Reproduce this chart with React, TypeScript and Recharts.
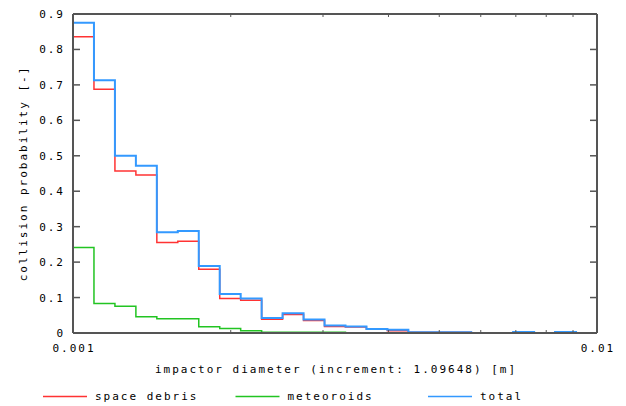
import React from 'react';
import { LineChart, Line, XAxis, YAxis, Legend } from 'recharts';

// Bin edges of the impactor diameter [m], 25 bins per decade (factor 1.09648)
const binEdges = [
  0.001, 0.0010965, 0.0012023, 0.0013183, 0.0014454, 0.0015849, 0.0017378,
  0.0019055, 0.0020893, 0.0022909, 0.0025119, 0.0027542, 0.00302, 0.0033113,
  0.0036308, 0.0039811, 0.0043652, 0.0047863, 0.0052481, 0.0057544, 0.0063096,
  0.0069183, 0.0075858, 0.0083176, 0.0091201, 0.01,
];

// Collision probability per bin
const spaceDebris = [
  0.836, 0.688, 0.457, 0.446, 0.255, 0.259, 0.18, 0.097, 0.0925, 0.039, 0.052,
  0.035, 0.018, 0.017, 0.011, 0.006, 0.002, 0.002, 0.002, 0, 0, 0.002, 0, 0.002, 0,
];
const meteoroids = [
  0.241, 0.083, 0.0755, 0.046, 0.04, 0.04, 0.0175, 0.0127, 0.006, 0.002, 0.002,
  0.002, 0.002, 0.001, 0.0005, 0.0005, 0.0003, 0.0003, 0.0003, 0, 0, 0.001, 0, 0.001, 0,
];
const total = [
  0.875, 0.713, 0.5, 0.472, 0.284, 0.288, 0.189, 0.11, 0.097, 0.042, 0.056,
  0.038, 0.021, 0.018, 0.011, 0.009, 0.002, 0.002, 0.002, 0, 0, 0.003, 0, 0.003, 0,
];

const seriesNames = ['space debris', 'meteoroids', 'total'];

const xTicks = [0.001, 0.002, 0.003, 0.004, 0.005, 0.006, 0.007, 0.008, 0.009, 0.01];
const xLabelledTicks = [0.001, 0.01];
const yTicks = [0, 0.1, 0.2, 0.3, 0.4, 0.5, 0.6, 0.7, 0.8, 0.9];

const xTitle = 'impactor diameter (increment: 1.09648) [m]';
const yTitle = 'collision probability [-]';

// each edge carries the value of the bin that starts there; the last edge closes the final bin
const data = binEdges.map((d, i) => {
  const k = Math.min(i, spaceDebris.length - 1);
  return { d, debris: spaceDebris[k], meteoroids: meteoroids[k], total: total[k] };
});

const FONT = "'DejaVu Sans Mono', monospace";
const FRAME = '#555555';
const textStyle = { fontFamily: FONT, fontSize: 11, letterSpacing: 2, fill: '#000' };

const fmtY = (v: number) => (v === 0 ? '0' : v.toFixed(1));

function BottomTick(props: any) {
  const { x, y, payload } = props;
  const v = payload.value;
  const labelled = xLabelledTicks.includes(v);
  return (
    <g>
      {!labelled && <line x1={x} x2={x} y1={y} y2={y - 3} stroke={FRAME} strokeWidth={1} />}
      {labelled && (
        <text x={x + 1} y={y + 19} textAnchor="middle" style={textStyle}>
          {String(v)}
        </text>
      )}
    </g>
  );
}

function TopTick(props: any) {
  const { x, y, payload } = props;
  if (xLabelledTicks.includes(payload.value)) return <g />;
  return <line x1={x} x2={x} y1={y} y2={y + 3} stroke={FRAME} strokeWidth={1} />;
}

function LeftTick(props: any) {
  const { x, y, payload } = props;
  return (
    <g>
      <line x1={x} x2={x + 7} y1={y} y2={y} stroke={FRAME} strokeWidth={1.5} />
      <text x={x - 8} y={y + 4} textAnchor="end" style={textStyle}>
        {fmtY(payload.value)}
      </text>
    </g>
  );
}

function RightTick(props: any) {
  const { x, y } = props;
  return <line x1={x} x2={x - 7} y1={y} y2={y} stroke={FRAME} strokeWidth={1.5} />;
}

function XTitle(props: any) {
  const vb = props.viewBox;
  return (
    <text x={vb.x + vb.width / 2 + 1} y={vb.y + 40} textAnchor="middle" style={textStyle}>
      {xTitle}
    </text>
  );
}

function YTitle(props: any) {
  const vb = props.viewBox;
  const cy = vb.y + vb.height / 2;
  return (
    <text
      transform={`translate(${vb.x + 26.5},${cy}) rotate(-90)`}
      textAnchor="middle"
      style={textStyle}
    >
      {yTitle}
    </text>
  );
}

function KeyBox(props: any) {
  const payload = props.payload || [];
  const items = seriesNames
    .map((n) => payload.find((p: any) => p.value === n))
    .filter(Boolean);
  return (
    <div style={{ position: 'relative', width: 0, height: 0 }}>
      <svg
        width={626}
        height={22}
        style={{ position: 'absolute', left: 0, top: 385, overflow: 'visible' }}
      >
        {items.map((it: any, i: number) => {
          const x0 = 43 + i * 192.5;
          return (
            <g key={it.value}>
              <line x1={x0} x2={x0 + 44} y1={11.5} y2={11.5} stroke={it.color} strokeWidth={1.5} />
              <text x={x0 + 52} y={15} style={textStyle}>
                {it.value}
              </text>
            </g>
          );
        })}
      </svg>
    </div>
  );
}

export default function App() {
  return (
    <div style={{ position: 'absolute', left: 0, top: 0, width: 626, height: 406, background: '#fff' }}>
      <LineChart
        width={626}
        height={406}
        data={data}
        margin={{ top: 13, right: 28, bottom: 0, left: 0 }}
      >
        <XAxis
          xAxisId="bottom"
          dataKey="d"
          type="number"
          scale="log"
          domain={[0.001, 0.01]}
          ticks={xTicks}
          interval={0}
          height={73}
          tickSize={0}
          tickMargin={0}
          tickLine={false}
          axisLine={{ stroke: FRAME, strokeWidth: 2 }}
          tick={<BottomTick />}
          label={{ content: <XTitle /> }}
        />
        <XAxis
          xAxisId="top"
          orientation="top"
          dataKey="d"
          type="number"
          scale="log"
          domain={[0.001, 0.01]}
          ticks={xTicks}
          interval={0}
          height={1}
          tickSize={0}
          tickMargin={0}
          tickLine={false}
          axisLine={{ stroke: FRAME, strokeWidth: 2 }}
          tick={<TopTick />}
        />
        <YAxis
          yAxisId="left"
          type="number"
          domain={[0, 0.9]}
          ticks={yTicks}
          interval={0}
          width={73}
          tickSize={0}
          tickMargin={0}
          tickLine={false}
          axisLine={{ stroke: FRAME, strokeWidth: 2 }}
          tick={<LeftTick />}
          label={{ content: <YTitle /> }}
        />
        <YAxis
          yAxisId="right"
          orientation="right"
          type="number"
          domain={[0, 0.9]}
          ticks={yTicks}
          interval={0}
          width={1}
          tickSize={0}
          tickMargin={0}
          tickLine={false}
          axisLine={{ stroke: FRAME, strokeWidth: 2 }}
          tick={<RightTick />}
        />
        <Legend
          content={<KeyBox />}
          wrapperStyle={{ left: 0, top: 0, width: 0, height: 0 }}
        />
        {/* unstroked copy bound to the top/right axes so they are laid out and drawn */}
        <Line
          xAxisId="top"
          yAxisId="right"
          type="stepAfter"
          dataKey="total"
          name="frame"
          stroke="none"
          legendType="none"
          dot={false}
          activeDot={false}
          isAnimationActive={false}
        />
        <Line
          xAxisId="bottom"
          yAxisId="left"
          type="stepAfter"
          dataKey="debris"
          name="space debris"
          stroke="#ff3333"
          strokeWidth={1.5}
          dot={false}
          activeDot={false}
          isAnimationActive={false}
        />
        <Line
          xAxisId="bottom"
          yAxisId="left"
          type="stepAfter"
          dataKey="meteoroids"
          name="meteoroids"
          stroke="#22c422"
          strokeWidth={1.5}
          dot={false}
          activeDot={false}
          isAnimationActive={false}
        />
        <Line
          xAxisId="bottom"
          yAxisId="left"
          type="stepAfter"
          dataKey="total"
          name="total"
          stroke="#3399ff"
          strokeWidth={2}
          dot={false}
          activeDot={false}
          isAnimationActive={false}
        />
      </LineChart>
    </div>
  );
}
